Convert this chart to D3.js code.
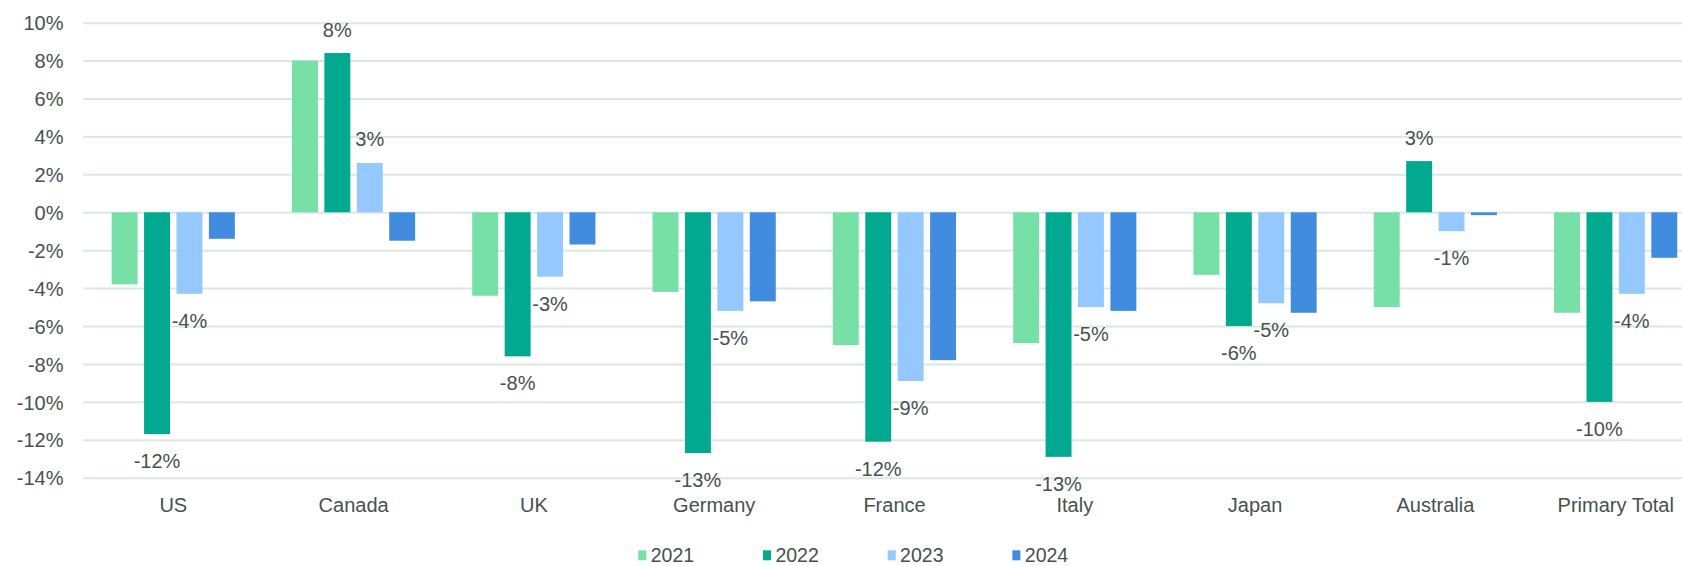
<!DOCTYPE html>
<html>
<head>
<meta charset="utf-8">
<script src="https://cdn.jsdelivr.net/npm/d3@7"></script>
<style>
  html, body { margin: 0; padding: 0; background: #ffffff; }
  svg { display: block; }
</style>
</head>
<body>
<svg id="chart" width="1682" height="566"></svg>
<script>
// Year-over-year change (%) by market
const categories = ["US", "Canada", "UK", "Germany", "France", "Italy", "Japan", "Australia", "Primary Total"];
const years = ["2021", "2022", "2023", "2024"];
const values2021 = [-3.8, 8.0, -4.4, -4.2, -7.0, -6.9, -3.3, -5.0, -5.3];
const values2022 = [-11.7, 8.4, -7.6, -12.7, -12.1, -12.9, -6.0, 2.7, -10.0];
const values2023 = [-4.3, 2.6, -3.4, -5.2, -8.9, -5.0, -4.8, -1.0, -4.3];
const values2024 = [-1.4, -1.5, -1.7, -4.7, -7.8, -5.2, -5.3, -0.15, -2.4];
const yTicks = [-14, -12, -10, -8, -6, -4, -2, 0, 2, 4, 6, 8, 10];
const labelledYears = ["2022", "2023"];

const seriesValues = { "2021": values2021, "2022": values2022, "2023": values2023, "2024": values2024 };
const colors = { "2021": "#76e0a6", "2022": "#00a98f", "2023": "#94c8fe", "2024": "#428ce0" };
const textColor = "#46524e";
const gridColor = "#dce8e4";
const fontAxis = "'Liberation Sans', Arial, sans-serif";
const fontLegend = "'Liberation Sans Narrow', 'Arial Narrow', 'Liberation Sans', sans-serif";

const svg = d3.select("#chart");
const width = 1682;

const plotLeft = 83.15, groupStep = 180.3;
const x0 = d3.scaleBand()
  .domain(categories)
  .range([plotLeft, plotLeft + groupStep * categories.length])
  .paddingInner(0).paddingOuter(0);
const x1 = d3.scaleBand()
  .domain(years)
  .range([28.5, 151.7])
  .paddingInner(0.2).paddingOuter(0);
const y = d3.scaleLinear().domain([-14, 10]).range([477.7, 22.7]);

// Horizontal gridlines with right-aligned percent labels
const yAxis = d3.axisLeft(y)
  .tickValues(yTicks)
  .tickSize(-(width - plotLeft))
  .tickPadding(20)
  .tickFormat(d => d + "%");
const gAxis = svg.append("g")
  .attr("transform", `translate(${plotLeft},0)`)
  .call(yAxis);
gAxis.select(".domain").remove();
gAxis.selectAll(".tick line").attr("stroke", gridColor).attr("stroke-width", 2);
gAxis.selectAll(".tick text")
  .attr("fill", textColor)
  .attr("font-family", fontAxis)
  .attr("font-size", 20)
  .attr("x", 63.5 - plotLeft)
  .attr("dy", "0.36em");

// Bars
const rows = categories.map((c, i) => ({ category: c, items: years.map(yr => ({ year: yr, value: seriesValues[yr][i] })) }));
const groups = svg.append("g").selectAll("g.group")
  .data(rows).join("g")
  .attr("class", "group")
  .attr("transform", d => `translate(${x0(d.category)},0)`);

groups.selectAll("rect")
  .data(d => d.items).join("rect")
  .attr("x", d => x1(d.year))
  .attr("width", x1.bandwidth())
  .attr("y", d => Math.min(y(d.value), y(0)))
  .attr("height", d => Math.abs(y(d.value) - y(0)))
  .attr("fill", d => colors[d.year]);

// Value labels for 2022 and 2023
groups.selectAll("text.value")
  .data(d => d.items.filter(it => labelledYears.includes(it.year))).join("text")
  .attr("class", "value")
  .attr("x", d => x1(d.year) + x1.bandwidth() / 2)
  .attr("y", d => d.value >= 0 ? y(d.value) - 16.5 : y(d.value) + 34)
  .attr("text-anchor", "middle")
  .attr("fill", textColor)
  .attr("font-family", fontAxis)
  .attr("font-size", 20)
  .text(d => Math.round(d.value) + "%");

// Category labels
const xAxis = d3.axisBottom(x0).tickSize(0).tickPadding(0);
const gX = svg.append("g").attr("transform", "translate(0,511.7)").call(xAxis);
gX.select(".domain").remove();
gX.selectAll(".tick text")
  .attr("fill", textColor)
  .attr("font-family", fontAxis)
  .attr("font-size", 20)
  .attr("y", 0)
  .attr("dy", 0);

// Legend
const legendX = d3.scaleBand().domain(years).range([638.3, 638.3 + 124.7 * years.length]);
const legend = svg.append("g").selectAll("g")
  .data(years).join("g")
  .attr("transform", d => `translate(${legendX(d)},0)`);
legend.append("rect")
  .attr("x", 0).attr("y", 550.3)
  .attr("width", 8).attr("height", 10)
  .attr("fill", d => colors[d]);
legend.append("text")
  .attr("x", 12.4).attr("y", 562)
  .attr("fill", textColor)
  .attr("font-family", fontLegend)
  .attr("font-size", 19.5)
  .text(d => d);
</script>
</body>
</html>
